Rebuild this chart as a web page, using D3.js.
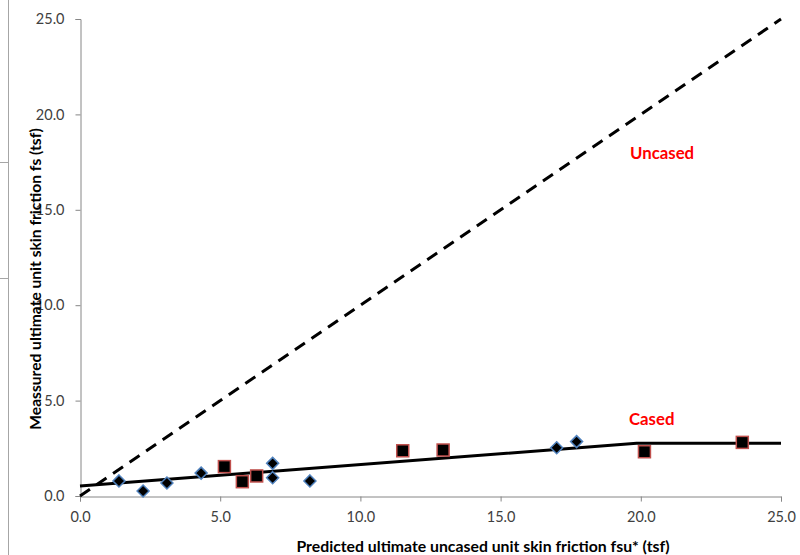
<!DOCTYPE html>
<html><head><meta charset="utf-8">
<script src="https://cdn.jsdelivr.net/npm/d3@7"></script>
<style>body{margin:0;background:#fff}svg{display:block}</style>
</head><body>
<script>
const uncasedX = [1.39, 2.25, 3.10, 4.32, 6.87, 6.87, 8.20, 17.00, 17.71];
const uncasedY = [0.79, 0.26, 0.68, 1.20, 1.71, 0.96, 0.79, 2.53, 2.85];
const casedX = [5.15, 5.79, 6.30, 11.51, 12.95, 20.13, 23.62];
const casedY = [1.54, 0.75, 1.05, 2.37, 2.41, 2.32, 2.81];
const trendX = [0, 19.85, 25];
const trendY = [0.52, 2.76, 2.76];
const equalX = [0, 25];
const equalY = [0, 25];
const ticks = [0, 5, 10, 15, 20, 25];
const tickLabels = ["0.0", "5.0", "10.0", "15.0", "20.0", "25.0"];

const W = 800, H = 555;
const svg = d3.select("body").append("svg").attr("width", W).attr("height", H);
const x = d3.scaleLinear().domain([0, 25]).range([80, 781]);
const y = d3.scaleLinear().domain([0, 25]).range([496, 19]);
const font = "Lato, 'Open Sans', sans-serif";

// left-edge artifacts
svg.append("line").attr("x1", 8.5).attr("x2", 8.5).attr("y1", 0).attr("y2", H).attr("stroke", "#a6a6a6").attr("stroke-width", 1);
[162, 278].forEach(v => svg.append("line").attr("x1", 0).attr("x2", 8).attr("y1", v + 0.5).attr("y2", v + 0.5).attr("stroke", "#a6a6a6"));

const xAxis = d3.axisBottom(x).tickValues(ticks).tickFormat((d, i) => tickLabels[i]).tickSize(5).tickPadding(10);
const yAxis = d3.axisLeft(y).tickValues(ticks).tickFormat((d, i) => tickLabels[i]).tickSize(5).tickPadding(11);
const gx = svg.append("g").attr("transform", "translate(0,496.5)").call(xAxis);
const gy = svg.append("g").attr("transform", "translate(80.5,0)").call(yAxis);
[gx, gy].forEach(g => {
  g.selectAll("path,line").attr("stroke", "#868686");
  g.selectAll("text").attr("fill", "#404040").style("font-family", font).style("font-size", "14.5px");
});

// y title (drawn after tick labels so it overlaps as in the reference)
svg.append("text").attr("transform", "translate(41,279) rotate(-90)").attr("text-anchor", "middle")
  .style("font-family", font).style("font-weight", "bold").style("font-size", "15.6px").attr("fill", "#000")
  .text("Meassured ultimate unit skin friction fs (tsf)");
svg.append("text").attr("x", 483).attr("y", 552).attr("text-anchor", "middle")
  .style("font-family", font).style("font-weight", "bold").style("font-size", "15.8px").attr("fill", "#000")
  .text("Predicted ultimate uncased unit skin friction fsu* (tsf)");

const line = d3.line().x(d => x(d[0])).y(d => y(d[1]));
svg.append("path").datum(equalX.map((v, i) => [v, equalY[i]])).attr("d", line)
  .attr("fill", "none").attr("stroke", "#000").attr("stroke-width", 3).attr("stroke-dasharray", "12,8");
svg.append("path").datum(trendX.map((v, i) => [v, trendY[i]])).attr("d", line)
  .attr("fill", "none").attr("stroke", "#000").attr("stroke-width", 3);

svg.selectAll(".dia").data(uncasedX.map((v, i) => [v, uncasedY[i]])).enter().append("path")
  .attr("transform", d => `translate(${x(d[0])},${y(d[1])})`)
  .attr("d", "M0,-6L6,0L0,6L-6,0Z").attr("fill", "#000").attr("stroke", "#4f81bd").attr("stroke-width", 1.5);
svg.selectAll(".sq").data(casedX.map((v, i) => [v, casedY[i]])).enter().append("rect")
  .attr("x", d => x(d[0]) - 6).attr("y", d => y(d[1]) - 6).attr("width", 12).attr("height", 12)
  .attr("fill", "#000").attr("stroke", "#c0504d").attr("stroke-width", 1.5);

svg.append("text").attr("x", 630).attr("y", 159).style("font-family", font).style("font-weight", "bold")
  .style("font-size", "16.8px").attr("fill", "#ff0000").text("Uncased");
svg.append("text").attr("x", 629).attr("y", 425).style("font-family", font).style("font-weight", "bold")
  .style("font-size", "16.8px").attr("fill", "#ff0000").text("Cased");
</script>
</body></html>
